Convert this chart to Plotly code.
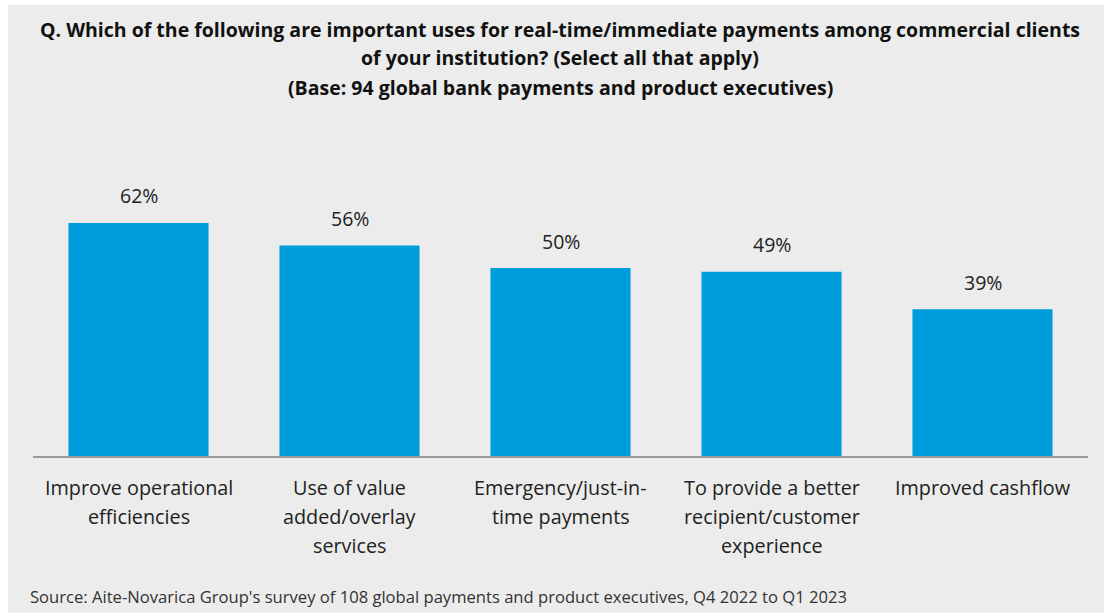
import plotly.graph_objects as go

# Survey results: share of respondents selecting each use
categories = [
    "Improve operational efficiencies",
    "Use of value added/overlay services",
    "Emergency/just-in-time payments",
    "To provide a better recipient/customer experience",
    "Improved cashflow",
]
label_lines = [
    ["Improve operational", "efficiencies"],
    ["Use of value", "added/overlay", "services"],
    ["Emergency/just-in-", "time payments"],
    ["To provide a better", "recipient/customer", "experience"],
    ["Improved cashflow"],
]
values = [62, 56, 50, 49, 39]

title_lines = [
    "Q. Which of the following are important uses for real-time/immediate payments among commercial clients",
    "of your institution? (Select all that apply)",
    "(Base: 94 global bank payments and product executives)",
]
source_text = ("Source: Aite-Novarica Group's survey of 108 global payments and product "
               "executives, Q4 2022 to Q1 2023")

BAR = "#009DDC"
BG = "#EBECEB"
FONT = "'Open Sans', Lato, sans-serif"
LINE_GAP = 29

W, H = 1104, 613
ML, MR, MT, MB = 33, 16, 130, 157
PW, PH = W - ML - MR, H - MT - MB


def px_x(px):
    return (px - ML) / PW


def px_y(py):
    return (H - MB - py) / PH


fig = go.Figure(
    go.Bar(
        x=categories,
        y=values,
        marker=dict(color=BAR, line=dict(width=0)),
        hoverinfo="skip",
    )
)

# value labels above each bar
for c, v in zip(categories, values):
    fig.add_annotation(
        x=c, y=v, text=f"{v}%", showarrow=False,
        yanchor="middle", yshift=27,
        font=dict(family=FONT, size=19.5, color="#222222"),
    )

# category labels below the axis, one annotation per line
for c, lines in zip(categories, label_lines):
    for i, line in enumerate(lines):
        fig.add_annotation(
            x=c, xref="x", yref="paper", y=px_y(487 + i * LINE_GAP),
            text=line, showarrow=False, xanchor="center", yanchor="middle",
            font=dict(family=FONT, size=19.8, color="#222222"),
        )

# chart title
for i, line in enumerate(title_lines):
    fig.add_annotation(
        xref="paper", yref="paper", x=px_x(560), y=px_y(29 + i * LINE_GAP),
        xanchor="center", yanchor="middle", showarrow=False,
        text=f"<b>{line}</b>",
        font=dict(family=FONT, size=19.5, color="#111111"),
    )

# source line
fig.add_annotation(
    xref="paper", yref="paper", x=px_x(28), y=px_y(596),
    xanchor="left", yanchor="middle", showarrow=False,
    text=source_text,
    font=dict(family=FONT, size=16.6, color="#333333"),
)

# grey panel behind the chart
fig.add_shape(
    type="rect", xref="paper", yref="paper", layer="below",
    x0=px_x(8), x1=px_x(W + 2), y0=px_y(H + 2), y1=px_y(5),
    fillcolor=BG, line=dict(width=0),
)

fig.update_layout(
    width=W, height=H,
    margin=dict(l=ML, r=MR, t=MT, b=MB),
    paper_bgcolor="white",
    plot_bgcolor="rgba(0,0,0,0)",
    bargap=0.336,
    showlegend=False,
    font=dict(family=FONT),
)
fig.update_xaxes(
    showline=True, linecolor="#9A9A9A", linewidth=2,
    showgrid=False, ticks="", showticklabels=False,
)
fig.update_yaxes(
    range=[0, PH / 3.76], visible=False, showgrid=False, zeroline=False,
)

fig.write_html("out.html")
